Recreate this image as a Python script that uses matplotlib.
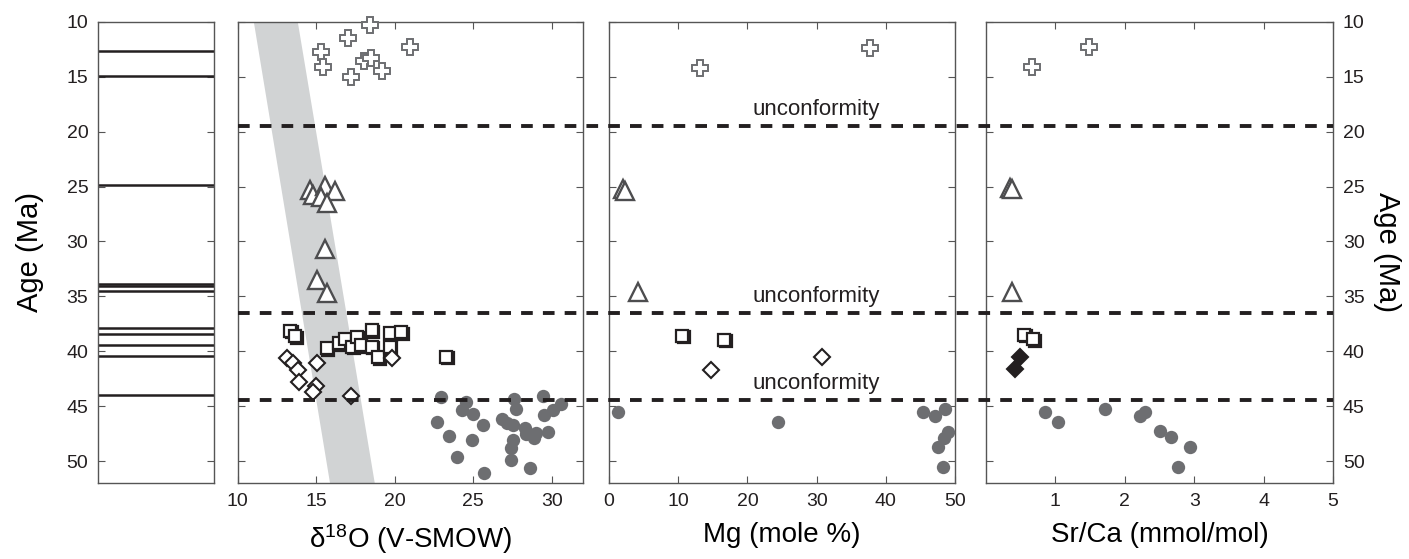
import matplotlib
matplotlib.use("Agg")
import matplotlib.pyplot as plt
from matplotlib.transforms import ScaledTranslation

plt.rcParams['font.family'] = ['Liberation Sans', 'DejaVu Sans']

# ages of the horizons in the left strip (Ma)
strip_ages = [12.6, 14.9, 24.85, 33.85, 34.1, 34.5, 37.9, 38.4, 39.45, 40.45, 43.95]
unconformities = [19.45, 36.5, 44.4]

# d18O panel
cross_d18o = [18.45, 17.05, 20.98, 15.28, 15.45, 17.2, 18.05, 18.47, 19.17]
cross_d18o_age = [10.27, 11.43, 12.25, 12.76, 14.07, 14.98, 13.55, 13.31, 14.46]
tri_d18o = [14.6, 14.81, 15.53, 16.17, 15.28, 15.66, 15.53, 15.06, 15.7]
tri_d18o_age = [25.3, 25.76, 24.94, 25.36, 25.97, 26.45, 30.7, 33.5, 34.71]
sq_d18o = [13.32, 13.68, 15.66, 16.45, 16.81, 17.3, 17.62, 17.83, 18.53, 18.53,
           18.94, 19.68, 19.68, 20.43, 23.26]
sq_d18o_age = [38.11, 38.6, 39.73, 39.27, 38.9, 39.57, 38.66, 39.42, 38.05, 39.57,
               40.54, 38.35, 39.57, 38.26, 40.48]
dia_d18o = [13.15, 13.5, 13.87, 15.03, 13.9, 15.0, 14.8, 17.2, 19.8]
dia_d18o_age = [40.6, 41.1, 41.7, 41.1, 42.8, 43.2, 43.7, 44.1, 40.65]
circ_d18o = [22.92, 24.51, 24.3, 25.0, 22.7, 25.62, 23.45, 24.94, 23.98, 27.6,
             27.75, 29.41, 30.58, 30.05, 29.51, 26.8, 27.5, 28.28, 28.35, 28.98,
             29.77, 27.56, 27.39, 28.84, 27.39, 28.62, 25.68, 27.17]
circ_d18o_age = [44.13, 44.58, 45.34, 45.7, 46.46, 46.7, 47.7, 48.07, 49.65, 44.37,
                 45.25, 44.06, 44.82, 45.34, 45.8, 46.16, 46.7, 47.0, 47.52, 47.46,
                 47.37, 48.07, 48.83, 47.91, 49.9, 50.6, 51.1, 46.55]
# meteoric water line band (d18O at age 10 and 52)
band_ages = [10, 52]
band_left = [11.0, 15.85]
band_right = [13.8, 18.7]

# Mg panel
cross_mg = [13.15, 37.77]
cross_mg_age = [14.19, 12.34]
tri_mg = [2.07, 2.31, 4.24]
tri_mg_age = [25.24, 25.37, 34.64]
sq_mg = [10.6, 16.67]
sq_mg_age = [38.59, 38.95]
dia_mg = [14.74, 30.73]
dia_mg_age = [41.67, 40.53]
circ_mg = [1.35, 24.37, 45.42, 47.1, 48.55, 48.94, 48.46, 47.59, 48.3]
circ_mg_age = [45.56, 46.43, 45.56, 45.88, 45.23, 47.34, 47.89, 48.7, 50.52]

# Sr/Ca panel
cross_sr = [0.66, 1.48]
cross_sr_age = [14.06, 12.27]
tri_sr = [0.35, 0.37, 0.37]
tri_sr_age = [25.1, 25.26, 34.6]
sq_sr = [0.55, 0.68]
sq_sr_age = [38.5, 38.9]
dia_sr = [0.49, 0.42]
dia_sr_age = [40.5, 41.66]
circ_sr = [0.85, 1.04, 1.72, 2.22, 2.29, 2.5, 2.66, 2.94, 2.76]
circ_sr_age = [45.55, 46.43, 45.3, 45.88, 45.55, 47.27, 47.82, 48.7, 50.52]

age_ticks = [10, 15, 20, 25, 30, 35, 40, 45, 50]

GREY = '#6d6e71'
DARK = '#231f20'

fig = plt.figure(figsize=(14.09, 5.59), dpi=100)
bot, h = 0.136, 0.8247
ax0 = fig.add_axes([0.0696, bot, 0.0823, h])
ax1 = fig.add_axes([0.1687, bot, 0.2452, h])
ax2 = fig.add_axes([0.4322, bot, 0.2456, h])
ax3 = fig.add_axes([0.6998, bot, 0.2463, h])

for ax in (ax0, ax1, ax2, ax3):
    ax.set_ylim(52, 10)
    ax.set_yticks(age_ticks)
    ax.tick_params(direction='in', top=True, right=True, length=5,
                   labelsize=14, colors='#555555', labelcolor=DARK, pad=7)
    for s in ax.spines.values():
        s.set_color('#555555')
        s.set_linewidth(1.0)
    ax.set_yticklabels([])

# left strip
ax0.set_xlim(0, 1)
ax0.set_xticks([])
ax0.set_yticklabels([str(t) for t in age_ticks])
for a in strip_ages:
    ax0.axhline(a, color=DARK, lw=1.8)
ax0.set_ylabel('Age (Ma)', fontsize=21, labelpad=16)


def markers(ax, x, y, marker, ms, fc, ec, mew=1.5, z=3):
    ax.plot(x, y, linestyle='none', marker=marker, ms=ms, mfc=fc, mec=ec,
            mew=mew, zorder=z, clip_on=False)


def doubled_squares(ax, x, y):
    off = ax.transData + ScaledTranslation(1.2 / 72, -1.2 / 72, fig.dpi_scale_trans)
    ax.plot(x, y, linestyle='none', marker='s', ms=9, mfc='white', mec=DARK,
            mew=1.6, zorder=3, transform=off)
    markers(ax, x, y, 's', 9, 'white', DARK, 1.6, 4)


# d18O
ax1.set_xlim(10, 32)
ax1.set_xticks([10, 15, 20, 25, 30])
ax1.fill_betweenx(band_ages, band_left, band_right, color='#d1d3d4', lw=0, zorder=1)
markers(ax1, circ_d18o, circ_d18o_age, 'o', 9.6, GREY, GREY, 0)
markers(ax1, cross_d18o, cross_d18o_age, 'P', 11.5, 'white', GREY, 1.4)
markers(ax1, tri_d18o, tri_d18o_age, '^', 12.5, 'white', '#4d4d4f', 1.7)
doubled_squares(ax1, sq_d18o, sq_d18o_age)
markers(ax1, dia_d18o, dia_d18o_age, 'D', 7.8, 'white', DARK, 1.5, 5)
ax1.set_xlabel(r'$\mathregular{\delta^{18}}$O (V-SMOW)', fontsize=20, labelpad=9)

# Mg
ax2.set_xlim(0, 50)
ax2.set_xticks([0, 10, 20, 30, 40, 50])
markers(ax2, circ_mg, circ_mg_age, 'o', 9.6, GREY, GREY, 0)
markers(ax2, cross_mg, cross_mg_age, 'P', 11.5, 'white', GREY, 1.4)
markers(ax2, tri_mg, tri_mg_age, '^', 12.5, 'white', '#4d4d4f', 1.7)
doubled_squares(ax2, sq_mg, sq_mg_age)
markers(ax2, dia_mg, dia_mg_age, 'D', 7.8, 'white', DARK, 1.5, 5)
for a in unconformities:
    ax2.text(30, a - 0.5, 'unconformity', ha='center', va='bottom',
             fontsize=16, color=DARK)
ax2.set_xlabel('Mg (mole %)', fontsize=20, labelpad=9)

# Sr/Ca
ax3.set_xlim(0, 5)
ax3.set_xticks([1, 2, 3, 4, 5])
markers(ax3, circ_sr, circ_sr_age, 'o', 9.6, GREY, GREY, 0)
markers(ax3, cross_sr, cross_sr_age, 'P', 11.5, 'white', GREY, 1.4)
markers(ax3, tri_sr, tri_sr_age, '^', 12.5, 'white', '#4d4d4f', 1.7)
doubled_squares(ax3, sq_sr, sq_sr_age)
markers(ax3, dia_sr, dia_sr_age, 'D', 7.8, DARK, DARK, 1.5, 5)
ax3.yaxis.tick_right()
ax3.tick_params(left=True, labelleft=False, labelright=True)
ax3.set_yticklabels([str(t) for t in age_ticks])
ax3.yaxis.set_label_position('right')
ax3.set_ylabel('Age (Ma)', fontsize=21, rotation=270, labelpad=26)
ax3.set_xlabel('Sr/Ca (mmol/mol)', fontsize=20, labelpad=9)

# dashed unconformity lines across the three data panels
ov = fig.add_axes([0.1687, bot, 0.6998 + 0.2463 - 0.1687, h], facecolor='none')
ov.set_ylim(52, 10)
ov.set_xlim(0, 1)
ov.axis('off')
for a in unconformities:
    ov.axhline(a, color=DARK, lw=2.8, linestyle=(0, (3, 2.6)), zorder=10)

fig.savefig('out.png', dpi=100)
